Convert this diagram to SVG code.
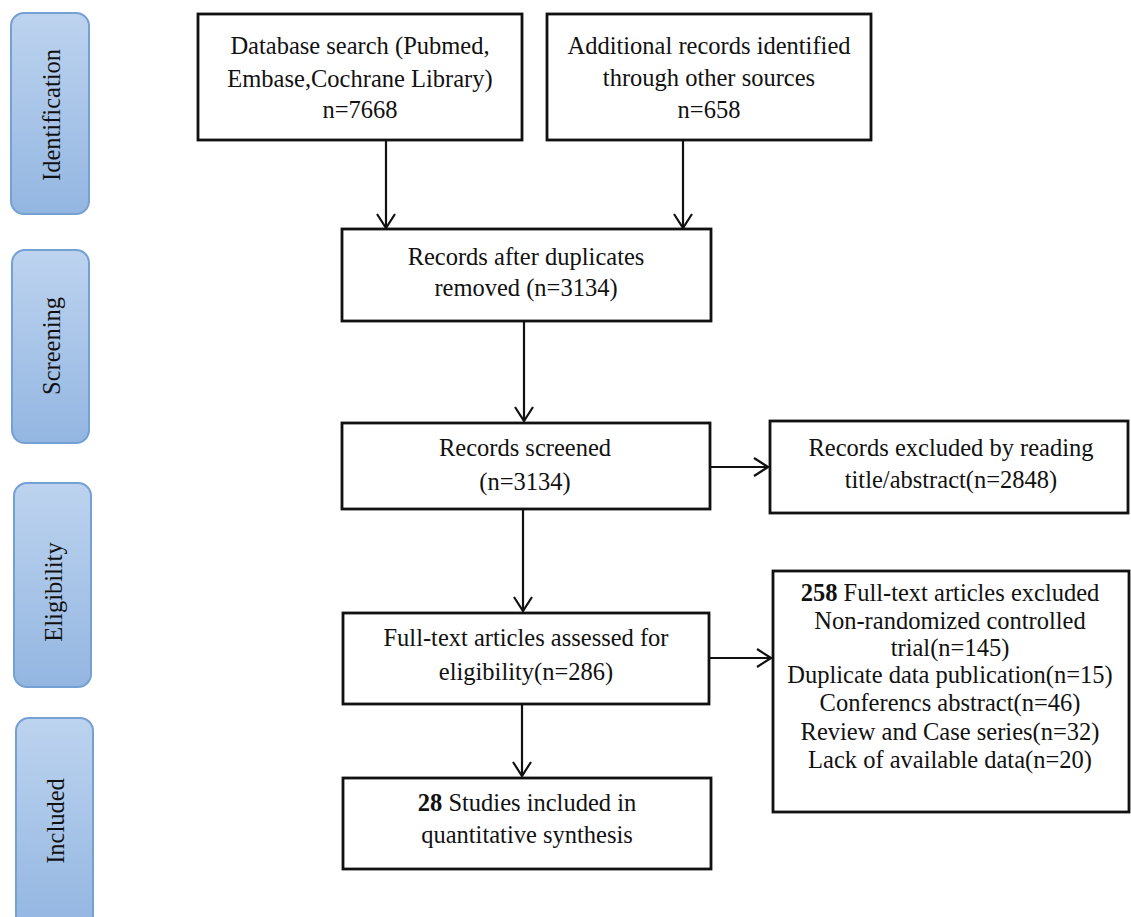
<svg xmlns="http://www.w3.org/2000/svg" width="1131" height="917" viewBox="0 0 1131 917">
<defs>
<linearGradient id="blue" x1="0" y1="0" x2="0" y2="1">
<stop offset="0" stop-color="#bdd3ef"/>
<stop offset="1" stop-color="#93b6e1"/>
</linearGradient>
<marker id="arr" viewBox="0 0 16 20" refX="15" refY="10" markerWidth="16" markerHeight="20" markerUnits="userSpaceOnUse" orient="auto">
<path d="M1,1 L15,10 L1,19" fill="none" stroke="#111" stroke-width="2.2"/>
</marker>
</defs>
<style>
.stage{fill:url(#blue);stroke:#74a0d4;stroke-width:2}
.box{fill:#fff;stroke:#111;stroke-width:2.8}
text{font-family:'Liberation Serif','DejaVu Serif',serif;fill:#111;text-anchor:middle}
.t{font-size:24.5px}
.s{font-size:24.5px}
.c{fill:none;stroke:#111;stroke-width:2.2;marker-end:url(#arr)}
</style>
<rect width="1131" height="917" fill="#fff"/>

<g id="stage-identification">
<rect class="stage" x="11" y="13" width="78" height="201" rx="13"/>
<text class="s" transform="translate(60,115) rotate(-90)">Identification</text>
</g>
<g id="stage-screening">
<rect class="stage" x="12" y="250" width="77" height="193" rx="13"/>
<text class="s" transform="translate(60,346) rotate(-90)">Screening</text>
</g>
<g id="stage-eligibility">
<rect class="stage" x="14" y="483" width="77" height="204" rx="13"/>
<text class="s" transform="translate(62,592) rotate(-90)">Eligibility</text>
</g>
<g id="stage-included">
<rect class="stage" x="16" y="718" width="77" height="210" rx="13"/>
<text class="s" transform="translate(64,821) rotate(-90)">Included</text>
</g>

<g id="database">
<rect class="box" x="198" y="14" width="324" height="126"/>
<text class="t" x="360" y="54">Database search (Pubmed,</text>
<text class="t" x="360" y="87">Embase,Cochrane Library)</text>
<text class="t" x="360" y="118">n=7668</text>
</g>
<g id="additional">
<rect class="box" x="547" y="14" width="324" height="126"/>
<text class="t" x="709" y="54">Additional records identified</text>
<text class="t" x="709" y="86">through other sources</text>
<text class="t" x="709" y="118">n=658</text>
</g>
<g id="after-duplicates">
<rect class="box" x="342" y="229" width="369" height="92"/>
<text class="t" x="526" y="265">Records after duplicates</text>
<text class="t" x="526" y="296">removed (n=3134)</text>
</g>
<g id="screened">
<rect class="box" x="342" y="423" width="368" height="86"/>
<text class="t" x="525" y="456">Records screened</text>
<text class="t" x="525" y="490">(n=3134)</text>
</g>
<g id="excluded-title">
<rect class="box" x="770" y="421" width="358" height="92"/>
<text class="t" x="951" y="456">Records excluded by reading</text>
<text class="t" x="951" y="488">title/abstract(n=2848)</text>
</g>
<g id="fulltext">
<rect class="box" x="343" y="613" width="366" height="91"/>
<text class="t" x="526" y="646">Full-text articles assessed for</text>
<text class="t" x="526" y="680">eligibility(n=286)</text>
</g>
<g id="excluded-fulltext">
<rect class="box" x="773" y="571" width="356" height="241"/>
<text class="t" x="950" y="601"><tspan font-weight="bold">258</tspan> Full-text articles excluded</text>
<text class="t" x="950" y="629">Non-randomized controlled</text>
<text class="t" x="950" y="656">trial(n=145)</text>
<text class="t" x="950" y="683">Duplicate data publication(n=15)</text>
<text class="t" x="950" y="711">Conferencs abstract(n=46)</text>
<text class="t" x="950" y="740">Review and Case series(n=32)</text>
<text class="t" x="950" y="768">Lack of available data(n=20)</text>
</g>
<g id="included">
<rect class="box" x="343" y="778" width="368" height="91"/>
<text class="t" x="527" y="811"><tspan font-weight="bold">28</tspan> Studies included in</text>
<text class="t" x="527" y="843">quantitative synthesis</text>
</g>

<g id="connectors">
<line class="c" x1="386" y1="141" x2="386" y2="228"/>
<line class="c" x1="683" y1="141" x2="683" y2="228"/>
<line class="c" x1="524" y1="322" x2="524" y2="421"/>
<line class="c" x1="711" y1="467" x2="768" y2="467"/>
<line class="c" x1="523" y1="510" x2="523" y2="611"/>
<line class="c" x1="710" y1="658" x2="771" y2="658"/>
<line class="c" x1="522" y1="705" x2="522" y2="776"/>
</g>
</svg>
